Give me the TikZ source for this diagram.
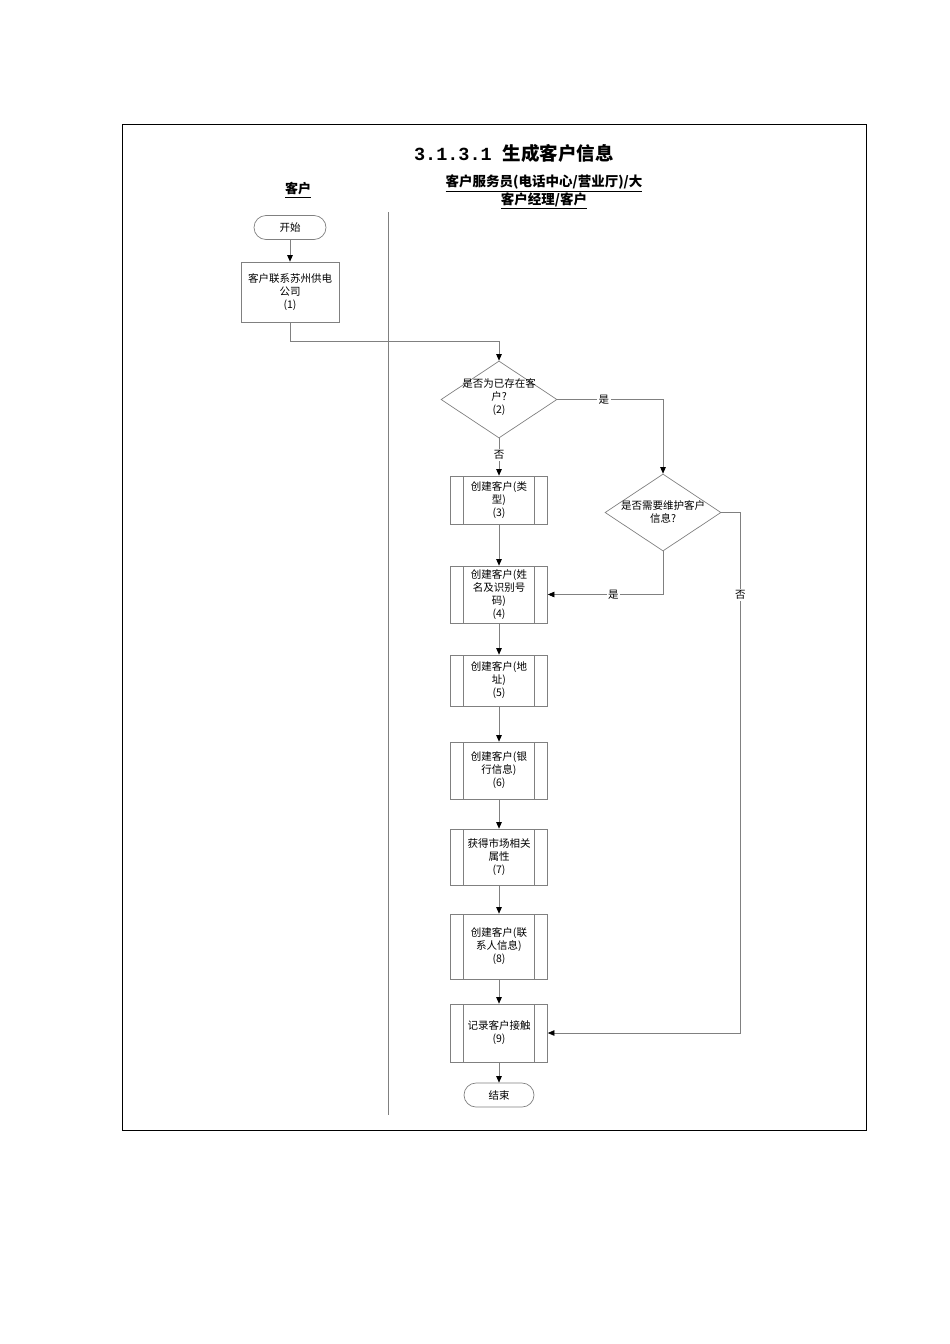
\documentclass[tikz,border=0pt]{standalone}
\usepackage{fontspec}
\setmainfont{Noto Sans CJK SC}
\newfontfamily\monof{Liberation Mono}
\usetikzlibrary{shapes.geometric,arrows.meta}
\begin{document}
\begin{tikzpicture}[x=1pt,y=-1pt,
  ln/.style={draw=black!50,line width=0.7pt},
  arr/.style={ln,-{Triangle[width=5.5pt,length=6.5pt,color=black]}},
  txt/.style={align=center,font=\fontsize{10.5}{13}\selectfont,inner sep=0pt},
  proc/.style={draw=black!50,line width=0.7pt,minimum width=98pt,inner sep=0pt,txt},
  sub/.style={draw=black!50,line width=0.7pt,minimum width=97pt,inner sep=0pt,txt,
    path picture={\draw[black!50,line width=0.7pt]
      ([xshift=13pt]path picture bounding box.north west) -- ([xshift=13pt]path picture bounding box.south west)
      ([xshift=-13pt]path picture bounding box.north east) -- ([xshift=-13pt]path picture bounding box.south east);}},
  term/.style={draw=black!50,line width=0.7pt,rounded corners=12pt,minimum height=24pt,inner sep=0pt,txt},
  dia/.style={diamond,draw=black!50,line width=0.7pt,minimum width=116pt,minimum height=77pt,inner sep=0pt},
  lbl/.style={fill=white,txt,inner sep=1.5pt}
]
\useasboundingbox (0,0) rectangle (950,1344);
% frame
\draw[black,line width=0.8pt] (122,124) rectangle (866,1130);
% titles
\node[inner sep=0pt,font=\fontsize{18.5}{20}\selectfont\bfseries] (title) at (514,153) {{\monof 3.1.3.1\ }生成客户信息};
\node[inner sep=0pt,font=\fontsize{13}{16}\selectfont\bfseries] (lane1) at (298,190) {\underline{客户}};
\node[inner sep=0pt,align=center,font=\fontsize{13.5}{16}\selectfont\bfseries] (lane2) at (544,192) {\underline{客户服务员(电话中心/营业厅)/大}\\\underline{客户经理/客户}};
% lane divider
\coordinate (divtop) at (388,212);
\coordinate (divbot) at (388,1115);
\draw[ln] (divtop) -- (divbot);
% nodes
\node[term,minimum width=72pt] (start) at (290,227.5) {开始};
\node[proc,minimum height=60pt] (b1) at (290,292) {客户联系苏州供电\\公司\\(1)};
\node[dia] (d2) at (499,399.5) {};
\node[txt] (d2t) at (499,397) {是否为已存在客\\户?\\(2)};
\node[sub,minimum height=48pt] (b3) at (499,500) {创建客户(类\\型)\\(3)};
\node[dia] (d3) at (663,512.5) {};
\node[txt] (d3t) at (663,511.5) {是否需要维护客户\\信息?};
\node[sub,minimum height=57pt] (b4) at (499,594.5) {创建客户(姓\\名及识别号\\码)\\(4)};
\node[sub,minimum height=51pt] (b5) at (499,680.5) {创建客户(地\\址)\\(5)};
\node[sub,minimum height=57pt] (b6) at (499,770.5) {创建客户(银\\行信息)\\(6)};
\node[sub,minimum height=56pt] (b7) at (499,857) {获得市场相关\\属性\\(7)};
\node[sub,minimum height=65pt] (b8) at (499,946.5) {创建客户(联\\系人信息)\\(8)};
\node[sub,minimum height=58pt] (b9) at (499,1033) {记录客户接触\\(9)};
\node[term,minimum width=70pt] (end) at (499,1095) {结束};
% connectors
\draw[arr] (start) -- (b1);
\draw[arr] (b1.south) -- ++(0,19) -| (d2.north);
\draw[arr] (d2.east) -| node[lbl,pos=0.22] {是} (d3.north);
\draw[arr] (d2.south) -- node[lbl,pos=0.45] {否} (b3.north);
\draw[arr] (b3) -- (b4);
\draw[arr] (d3.south) |- node[lbl,pos=0.716] {是} (b4.east);
\draw[arr] (d3.east) -- ++(19,0) |- node[lbl,pos=0.079] {否} (b9.east);
\draw[arr] (b4) -- (b5);
\draw[arr] (b5) -- (b6);
\draw[arr] (b6) -- (b7);
\draw[arr] (b7) -- (b8);
\draw[arr] (b8) -- (b9);
\draw[arr] (b9) -- (end);
\end{tikzpicture}
\end{document}
